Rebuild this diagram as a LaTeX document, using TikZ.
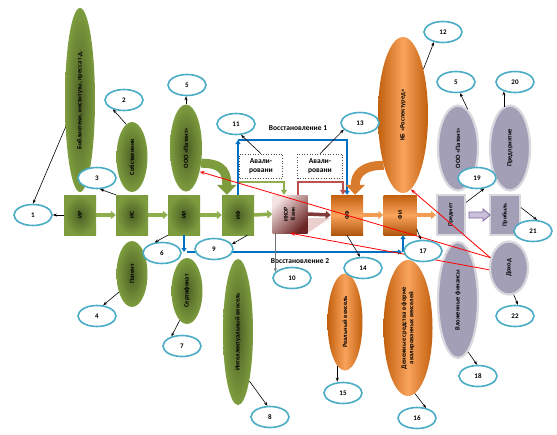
\documentclass[tikz,border=0pt]{standalone}
\usepackage{fontspec}
\setmainfont{Carlito}
\usetikzlibrary{shapes.geometric,arrows.meta,calc}
\definecolor{tealc}{HTML}{4BACC6}
\definecolor{gin}{HTML}{4C5F26}
\definecolor{gout}{HTML}{7D9C3E}
\definecolor{garrow}{HTML}{8DAE4A}
\definecolor{oDark}{HTML}{C2600E}
\definecolor{oLight}{HTML}{F9A35C}
\definecolor{grayf}{HTML}{A39FB7}
\definecolor{grayb}{HTML}{D8D8DE}
\definecolor{bluel}{HTML}{0070C0}
\definecolor{pinkl}{HTML}{C0504D}
\definecolor{maroonc}{HTML}{7F3A3A}
\definecolor{purp}{HTML}{8064A2}
\definecolor{lav}{HTML}{CCC1DA}
\definecolor{ikorL}{HTML}{F6E4E4}
\definecolor{ikorD}{HTML}{6A2624}
\definecolor{ikorS}{HTML}{EBCFCF}
\newcommand{\vtxt}[1]{\rotatebox{90}{#1}}
\newcommand{\vtxtb}[2]{\rotatebox{90}{\begin{tabular}{@{}c@{}}#1\\#2\end{tabular}}}
\begin{document}
\begin{tikzpicture}[x=1pt,y=-1pt,
  num/.style={ellipse,draw=tealc,line width=1.6pt,fill=white,minimum width=38pt,minimum height=21pt,inner sep=0pt,font=\fontsize{7}{8}\selectfont\bfseries},
  gbox/.style={rectangle,inner color=gin,outer color=gout,minimum width=32pt,minimum height=40pt,inner sep=0pt,font=\fontsize{6}{7}\selectfont\bfseries},
  obox/.style={rectangle,top color=oDark,bottom color=oDark!90!black,middle color=oLight,minimum width=32pt,minimum height=40pt,inner sep=0pt,font=\fontsize{6}{7}\selectfont\bfseries},
  grbox/.style={rectangle,fill=grayf,draw=grayb,line width=2pt,minimum height=40pt,inner sep=0pt,font=\fontsize{6}{7}\selectfont\bfseries},
  ikorbox/.style={rectangle,left color=ikorL,right color=ikorD,shading angle=45,minimum width=35pt,minimum height=38pt,inner sep=0pt,font=\fontsize{6}{7}\selectfont\bfseries},
  gell/.style={ellipse,inner color=gin,outer color=gout,inner sep=0pt,font=\fontsize{6.5}{7.5}\selectfont\bfseries},
  oell/.style={ellipse,left color=oDark,right color=oDark,middle color=oLight,inner sep=0pt,font=\fontsize{6.5}{7.5}\selectfont\bfseries},
  grell/.style={ellipse,fill=grayf,draw=grayb,line width=2.2pt,inner sep=0pt,font=\fontsize{6.5}{7.5}\selectfont\bfseries},
  avbox/.style={draw=black!70,dotted,line width=0.6pt,minimum width=43pt,minimum height=24pt,inner sep=0pt,align=center,font=\fontsize{7.5}{8.5}\selectfont\bfseries},
  lbl/.style={font=\fontsize{7.5}{8.5}\selectfont\bfseries,inner sep=0pt},
  karr/.style={draw=black,line width=0.6pt,-{Stealth[length=4pt,width=3pt]}},
  garr/.style={draw=garrow,line width=3.5pt,-{Triangle[width=8pt,length=5pt]}},
  oarr/.style={draw=oLight!90!oDark,line width=3.5pt,-{Triangle[width=8pt,length=5pt]}},
  marr/.style={draw=maroonc,line width=3.5pt,-{Triangle[width=8pt,length=5pt]}},
  bline/.style={draw=bluel,line width=1.8pt,-{Triangle[width=5pt,length=4pt]}},
  gline/.style={draw=garrow,line width=1.8pt,-{Triangle[width=6pt,length=5pt]}},
  pline/.style={draw=pinkl,line width=1.8pt,-{Triangle[width=6pt,length=5pt]}},
  rline/.style={draw=red,line width=0.8pt,-{Stealth[length=5pt,width=3.5pt]}}
]
\useasboundingbox (0,0) rectangle (557,434);
% upper and lower ellipses
\node[gell,minimum width=30pt,minimum height=184pt] (bib) at (80,100) {\vtxt{Библиотеки, институты, пресса т.д.}};
\node[gell,minimum width=31pt,minimum height=70pt] (sob) at (132,157) {\vtxt{Собственник}};
\node[gell,minimum width=32pt,minimum height=87pt] (oooG) at (186,148) {\vtxt{ООО «Патент»}};
\node[gell,minimum width=31pt,minimum height=66pt] (pat) at (132,274) {\vtxt{Патент}};
\node[gell,minimum width=31pt,minimum height=66pt] (sert) at (187,291) {\vtxt{Сертификат}};
\node[gell,minimum width=30pt,minimum height=146pt] (ivek) at (238,332) {\vtxt{Интеллектуальный вексель}};
\node[oell,minimum width=50pt,minimum height=156pt] (kb) at (403,115) {\vtxt{КБ «Роспектуред»}};
\node[oell,minimum width=35pt,minimum height=97pt] (rvek) at (345,322) {\vtxt{Реальный вексель}};
\node[oell,minimum width=49pt,minimum height=136pt] (den) at (408,328) {\vtxtb{Денежные средства в форме}{авалированных векселей}};
\node[grell,minimum width=40pt,minimum height=85pt] (oooP) at (458,148) {\vtxt{ООО «Патент»}};
\node[grell,minimum width=40pt,minimum height=85pt] (predpr) at (510,148) {\vtxt{Предприятие}};
\node[grell,minimum width=40pt,minimum height=116pt] (vfin) at (458,300) {\vtxt{Вложенные финансы}};
\node[grell,minimum width=38pt,minimum height=53pt] (dohod) at (509,268) {\vtxt{Доход}};
% dotted boxes and labels
\node[avbox] (av1) at (261,166) {Авали-\\ровани};
\node[avbox,minimum width=45pt] (av2) at (320,166) {Авали-\\ровани};
\node[lbl] (v1) at (298,128) {Восстановление 1};
\node[lbl] (v2) at (300,261) {Восстановление 2};
% main row
\node[gbox] (ir) at (80,215) {\vtxt{ИР}};
\node[gbox] (is) at (132,215) {\vtxt{ИС}};
\node[gbox] (ii) at (184,215) {\vtxt{ИИ}};
\node[gbox] (ifb) at (238,215) {\vtxt{ИФ}};
\fill[ikorS] (307.5,218) -- (330,218) -- (307.5,233) -- cycle;
\node[ikorbox] (ikor) at (290,214) {\vtxtb{ИКОР}{Банк}};
\node[obox] (ff) at (347,215) {\vtxt{ФФ}};
\node[obox,minimum width=33pt] (fi) at (400,215) {\vtxt{ФИ}};
\node[grbox,minimum width=28pt] (pred) at (451,215) {\vtxt{Предмет}};
\node[grbox,minimum width=30pt] (prib) at (505,215) {\vtxt{Прибыль}};
% restoration lines
\coordinate (b1) at (ifb.north |- 0,140);
\draw[bline] (ifb.north) -- (b1);
\draw[bline] (b1) -| (ff.north);
\draw[gline] ($(ifb.north)+(1,-13)$) -| ($(ikor.north)+(-6,0)$);
\draw[pline] ($(ikor.north)+(8,0)$) -- ++(0,-13) -| ($(ff.north)+(-4,0)$);
\coordinate (v2l) at (ii.south |- 0,252);
\coordinate (v2r) at (403,252);
\draw[bline] (ii.south) -- (v2l);
\draw[bline] ($(v2l)+(3,0)$) -- ($(v2r)+(-1,0)$);
\draw[bline] (v2r) -- (v2r |- fi.south);
% arrows between boxes
\draw[garr] (ir.east) -- (is.west);
\draw[garr] (is.east) -- (ii.west);
\draw[garr] (ii.east) -- (ifb.west);
\draw[garr] (ifb.east) -- (ikor.west);
\draw[marr] (ikor.east) -- (ff.west);
\draw[oarr] (ff.east) -- (fi.west);
\draw[oarr] (fi.east) -- (pred.west);
\draw[purp,fill=lav,line width=0.8pt] ($(pred.east)+(3,-3)$) -- ++(14,0) -- ++(0,-3) -- ++(7,6) -- ++(-7,6) -- ++(0,-3) -- ++(-14,0) -- cycle;
% curved block arrows
\draw[draw=gout,line width=9pt,-{Triangle[width=19pt,length=10pt]}] (oooG.-45) .. controls +(24,0) and +(0,-20) .. ($(ifb.north west)+(5,0)$);
\draw[draw=oDark!60!oLight,line width=9pt,-{Triangle[width=19pt,length=10pt]}] (kb.249) .. controls +(-22,0) and +(0,-20) .. ($(ff.north east)+(-8,0)$);
% red lines
\draw[rline] (dohod.151) -- (oooG.-60);
\draw[rline] (dohod.151) -- (kb.276);
\draw[rline] (dohod.185) -- (ikor.south);
% number ellipses
\node[num] (n1) at (33,215) {1};
\node[num] (n2) at (124,100) {2};
\node[num] (n3) at (97,178) {3};
\node[num] (n4) at (97,316) {4};
\node[num] (n5a) at (187,85) {5};
\node[num] (n6) at (162,253) {6};
\node[num] (n7) at (182,346) {7};
\node[num] (n8) at (270,417) {8};
\node[num] (n9) at (214,249) {9};
\node[num] (n10) at (292,278) {10};
\node[num] (n11) at (236,124) {11};
\node[num] (n12) at (443,32) {12};
\node[num] (n13) at (360,123) {13};
\node[num] (n14) at (363,268) {14};
\node[num] (n15) at (343,393) {15};
\node[num] (n16) at (417,418) {16};
\node[num] (n17) at (423,251) {17};
\node[num] (n18) at (478,376) {18};
\node[num] (n19) at (477,178) {19};
\node[num] (n20) at (515,82) {20};
\node[num] (n21) at (533,231) {21};
\node[num] (n22) at (515,316) {22};
\node[num] (n5b) at (456,82) {5};
% black pointer arrows
\draw[karr] (bib.242) -- (n1.north);
\draw[karr] (sob.100) -- (n2.220);
\draw[karr] (is.north west) -- (n3.285);
\draw[karr] (ir.west) -- (n1.east);
\draw[karr] (oooG.north) -- (oooG.north |- n5a.south);
\draw[karr] (pat.234) -- (n4.60);
\draw[karr] (ii.south west) -- (n6.125);
\draw[karr] (sert.256) -- (n7.138);
\draw[karr] (ivek.283) -- (n8.103);
\draw[karr] (ifb.-65) -- (n9.15);
\draw[draw=black!55,line width=0.7pt,-{Stealth[length=4pt,width=3pt]}] (n10.160 |- ikor.south) -- (n10.160);
\draw[karr] (av1.north) -- (n11.295);
\draw[karr] (kb.66) -- (n12.228);
\draw[karr] (av2.north) -- (n13.202);
\draw[karr] (ff.south) -- (n14.105);
\draw[karr] (rvek.260) -- (rvek.260 |- n15.north);
\draw[karr] (den.276) -- (n16.48);
\draw[karr] (fi.-40) -- (n17.100);
\draw[karr] (vfin.281) -- (n18.95);
\draw[karr] (pred.40) -- (n19.305);
\draw[karr] ($(n20.220 |- predpr.north)+(0,3)$) -- (n20.220);
\draw[karr] (prib.25) -- (n21.70);
\draw[karr] (dohod.280) -- (n22.75);
\draw[karr] (oooP.76) -- (n5b.290);
\end{tikzpicture}
\end{document}
